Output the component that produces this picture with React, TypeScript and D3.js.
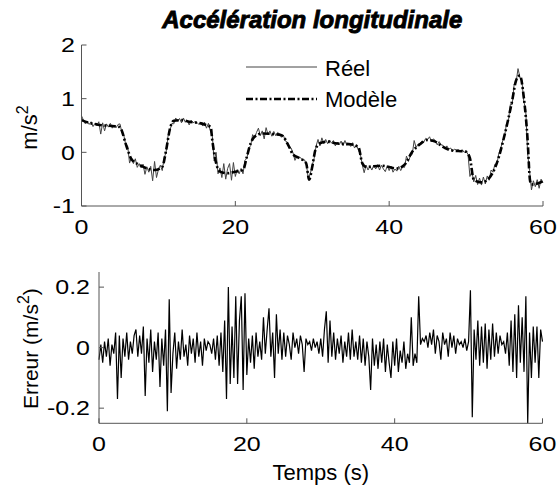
import React from 'react';
import * as d3 from 'd3';

// ---------- data ----------
const sampleStep = 0.25; // s
const xTicks = [0, 20, 40, 60];
const topYTicks = [-1, 0, 1, 2];
const botYTicks = [-0.2, 0, 0.2];

const modelTimes = [0, 1, 2, 3, 4, 5, 5.3, 5.7, 6, 6.5, 7.5, 8.5, 9.5, 10.5, 11, 11.5, 12, 13, 14, 16, 16.8, 17, 17.5, 18, 19, 20, 21, 21.5, 22, 22.5, 23.5, 25, 26, 27, 27.5, 28.5, 29.2, 29.6, 30, 30.4, 31, 32, 33, 35, 36, 36.5, 37, 39, 41, 42, 43, 44, 45, 46, 47, 48, 50, 50.5, 51, 52, 53, 54, 55, 56, 56.5, 57, 57.5, 58, 58.3, 58.5, 59.5, 60];
const modelValues = [0.6, 0.55, 0.52, 0.5, 0.49, 0.47, 0.38, 0.18, 0.05, -0.13, -0.23, -0.3, -0.33, -0.27, 0.04, 0.44, 0.59, 0.6, 0.57, 0.52, 0.47, 0.23, -0.2, -0.36, -0.39, -0.36, -0.33, -0.08, 0.17, 0.29, 0.35, 0.34, 0.32, 0.1, -0.04, -0.12, -0.2, -0.51, -0.27, 0.04, 0.17, 0.2, 0.17, 0.15, 0.1, -0.2, -0.27, -0.25, -0.3, -0.23, 0.01, 0.15, 0.23, 0.2, 0.1, 0.04, 0.01, -0.11, -0.51, -0.56, -0.48, -0.2, 0.32, 0.97, 1.34, 1.43, 1.03, 0.23, -0.51, -0.6, -0.57, -0.54];

const reelValues = [
  0.68, 0.60, 0.53, 0.58, 0.52, 0.57, 0.48, 0.54, 0.50, 0.57, 0.34, 0.55, 0.40, 0.53, 0.47, 0.54, 0.45, 0.51, 0.46, 0.52,
  0.53, 0.37, 0.32, 0.14, 0.12, -0.20, -0.10, -0.21, -0.12, -0.28, -0.21, -0.29, -0.22, -0.41, -0.27, -0.37, -0.26, -0.53, -0.17, -0.47,
  -0.32, -0.24, -0.34, -0.10, 0.00, 0.30, 0.41, 0.54, 0.53, 0.64, 0.58, 0.63, 0.55, 0.64, 0.56, 0.60, 0.51, 0.60, 0.55, 0.57,
  0.56, 0.52, 0.56, 0.49, 0.56, 0.45, 0.54, 0.40, 0.32, -0.16, 0.00, -0.40, -0.29, -0.47, -0.21, -0.50, -0.30, -0.21, -0.52, -0.19,
  -0.45, -0.32, -0.40, -0.30, -0.40, -0.15, -0.11, 0.07, 0.13, 0.33, 0.27, 0.37, 0.45, 0.31, 0.40, 0.25, 0.46, 0.33, 0.40, 0.30,
  0.39, 0.31, 0.37, 0.34, 0.28, 0.32, 0.21, 0.19, 0.08, 0.08, -0.01, -0.15, -0.07, -0.10, -0.10, -0.15, -0.14, -0.24, -0.50, -0.40,
  -0.24, -0.11, 0.12, 0.24, 0.12, 0.27, 0.16, 0.24, 0.16, 0.23, 0.17, 0.22, 0.12, 0.19, 0.14, 0.21, 0.12, 0.22, 0.13, 0.17,
  0.11, 0.18, 0.08, 0.14, 0.04, -0.03, -0.23, -0.38, -0.24, -0.33, -0.26, -0.33, -0.24, -0.31, -0.23, -0.33, -0.24, -0.31, -0.36, -0.25,
  -0.34, -0.26, -0.37, -0.31, -0.35, -0.26, -0.34, -0.27, -0.28, -0.07, -0.17, -0.07, -0.04, 0.22, 0.09, 0.15, 0.17, 0.21, 0.19, 0.26,
  0.24, 0.29, 0.20, 0.25, 0.22, 0.14, 0.20, 0.14, 0.13, 0.06, 0.12, 0.06, 0.08, 0.02, 0.06, 0.04, 0.05, 0.02, 0.05, 0.00,
  0.03, -0.04, -0.45, -0.35, -0.55, -0.43, -0.60, -0.48, -0.61, -0.46, -0.59, -0.44, -0.52, -0.33, -0.37, -0.22, -0.22, -0.03, 0.07, 0.21,
  0.30, 0.53, 0.58, 0.89, 0.89, 1.27, 1.30, 1.56, 1.40, 1.35, 0.95, 0.80, -0.02, -0.34, -0.70, -0.53, -0.64, -0.51, -0.67, -0.50,
  -0.56,
];

const errorValues = [
  -0.04, 0.01, -0.05, 0.02, -0.03, 0.03, -0.06, 0.01, -0.02, 0.05, -0.17, 0.04, -0.10, 0.03, -0.03, 0.05, -0.04, 0.02, -0.02, 0.04,
  0.06, -0.03, 0.04, -0.02, 0.07, -0.16, 0.03, -0.05, 0.06, -0.08, 0.02, -0.04, 0.05, -0.13, 0.03, -0.06, 0.06, -0.21, 0.16, -0.15,
  -0.02, 0.05, -0.07, 0.02, -0.04, 0.06, -0.03, 0.01, -0.06, 0.04, -0.02, 0.03, -0.05, 0.05, -0.03, 0.02, -0.06, 0.03, -0.01, 0.02,
  0.01, -0.02, 0.03, -0.04, 0.04, -0.06, 0.05, -0.08, 0.09, -0.17, 0.20, -0.12, 0.07, -0.10, 0.17, -0.12, 0.09, 0.17, -0.14, 0.18,
  -0.09, 0.03, -0.05, 0.04, -0.07, 0.05, -0.03, 0.02, -0.04, 0.10, -0.02, 0.06, 0.13, -0.03, 0.05, -0.10, 0.11, -0.02, 0.06, -0.04,
  0.05, -0.03, 0.04, 0.01, -0.04, 0.05, 0.00, 0.03, -0.02, 0.04, 0.01, -0.08, 0.03, 0.01, 0.02, -0.01, 0.03, 0.00, 0.02, -0.02,
  0.03, -0.03, 0.06, 0.12, -0.05, 0.09, -0.03, 0.05, -0.04, 0.03, -0.02, 0.04, -0.05, 0.02, -0.03, 0.05, -0.04, 0.06, -0.03, 0.02,
  -0.04, 0.04, -0.05, 0.03, -0.06, 0.02, -0.03, -0.14, 0.03, -0.06, 0.01, -0.07, 0.02, -0.05, 0.03, -0.08, 0.01, -0.05, -0.10, 0.02,
  -0.06, 0.03, -0.08, -0.01, -0.05, 0.02, -0.07, -0.02, -0.05, 0.10, -0.06, -0.02, -0.05, 0.17, 0.01, 0.03, 0.02, 0.04, 0.00, 0.05,
  0.01, 0.06, -0.02, 0.04, 0.02, -0.04, 0.05, 0.01, 0.03, -0.03, 0.05, 0.00, 0.04, -0.02, 0.03, 0.01, 0.02, 0.00, 0.03, -0.01,
  0.02, 0.19, -0.23, 0.06, -0.04, 0.09, -0.06, 0.07, -0.05, 0.08, -0.07, 0.06, -0.04, 0.08, -0.03, 0.05, -0.02, 0.04, 0.01, 0.02,
  -0.02, 0.05, -0.06, 0.09, -0.08, 0.11, -0.10, 0.14, -0.05, 0.10, -0.08, 0.17, -0.25, 0.05, -0.10, 0.07, -0.05, 0.07, -0.10, 0.06,
  0.02,
];

const FONT = "'Liberation Sans', Arial, Helvetica, sans-serif";
const AXIS = '#555';

export default function App() {
  const W = 557;
  const H = 488;

  const xTop = d3.scaleLinear().domain([0, 60]).range([81.5, 543]);
  const yTop = d3.scaleLinear().domain([-1, 2]).range([206, 45]);
  const xBot = d3.scaleLinear().domain([0, 60]).range([99, 542.5]);
  const yBot = d3.scaleLinear().domain([-0.25, 0.25]).range([423.3, 272]);

  const reelData = reelValues.map((v, i) => [i * sampleStep, v] as [number, number]);
  const errData = errorValues.map((v, i) => [i * sampleStep, v] as [number, number]);
  const modelData = modelTimes.map((t, i) => [t, modelValues[i]] as [number, number]);

  const lineTop = d3.line<[number, number]>().x(d => xTop(d[0])).y(d => yTop(d[1]));
  const lineModel = d3.line<[number, number]>().x(d => xTop(d[0])).y(d => yTop(d[1])).curve(d3.curveMonotoneX);
  const lineBot = d3.line<[number, number]>().x(d => xBot(Math.min(60, d[0]))).y(d => yBot(Math.max(-0.25, Math.min(0.25, d[1]))));

  const fmt = (v: number) => (Math.abs(v) < 1e-9 ? '0' : String(v));
  const tickFs = 20;
  const sx = 1.25;

  return (
    <svg width={W} height={H} style={{ position: 'absolute', left: 0, top: 0, background: '#fff' }} fontFamily={FONT}>
      {/* Title */}
      <text x={(xTop.range()[0] + xTop.range()[1]) / 2} y={28} textAnchor="middle" fontSize={24} fontWeight="bold" fontStyle="italic" stroke="#000" strokeWidth={0.9}>
        Accélération longitudinale
      </text>

      {/* ---- Top plot ---- */}
      <path d={lineTop(reelData) || ''} fill="none" stroke="#444" strokeWidth={1} />
      <path d={lineModel(modelData) || ''} fill="none" stroke="#000" strokeWidth={2.6} strokeDasharray="7,2.5,2,2.5" />
      {/* axes */}
      <line x1={xTop.range()[0]} x2={xTop.range()[0]} y1={yTop.range()[0]} y2={yTop.range()[1]} stroke={AXIS} strokeWidth={1} />
      <line x1={xTop.range()[0]} x2={xTop.range()[1]} y1={yTop.range()[0]} y2={yTop.range()[0]} stroke={AXIS} strokeWidth={1} />
      {xTicks.map(t => (
        <g key={'xt' + t}>
          <line x1={xTop(t)} x2={xTop(t)} y1={yTop.range()[0]} y2={yTop.range()[0] - 5} stroke={AXIS} />
          <text transform={`translate(${xTop(t)},${yTop.range()[0] + 28}) scale(${sx},1)`} textAnchor="middle" fontSize={tickFs}>{fmt(t)}</text>
        </g>
      ))}
      {topYTicks.map(t => (
        <g key={'yt' + t}>
          <line x1={xTop.range()[0]} x2={xTop.range()[0] + 5} y1={yTop(t)} y2={yTop(t)} stroke={AXIS} />
          <text transform={`translate(75,${yTop(t)}) scale(${sx},1)`} dy="0.36em" textAnchor="end" fontSize={tickFs}>{fmt(t)}</text>
        </g>
      ))}
      <text transform={`translate(37,${(yTop.range()[0] + yTop.range()[1]) / 2 + 2}) rotate(-90)`} textAnchor="middle" fontSize={22}>
        m/s<tspan fontSize={16} dy={-9}>2</tspan>
      </text>
      {/* legend */}
      <line x1={246} x2={317} y1={67} y2={67} stroke="#444" strokeWidth={1} />
      <text x={325} y={68} dy="0.36em" fontSize={22}>Réel</text>
      <line x1={246} x2={317} y1={99} y2={99} stroke="#000" strokeWidth={2.6} strokeDasharray="7,2.5,2,2.5" />
      <text x={325} y={99.5} dy="0.36em" fontSize={22}>Modèle</text>

      {/* ---- Bottom plot ---- */}
      <path d={lineBot(errData) || ''} fill="none" stroke="#000" strokeWidth={1.2} />
      <line x1={xBot.range()[0]} x2={xBot.range()[0]} y1={yBot.range()[0]} y2={yBot.range()[1]} stroke={AXIS} strokeWidth={1} />
      <line x1={xBot.range()[0]} x2={xBot.range()[1]} y1={yBot.range()[0]} y2={yBot.range()[0]} stroke={AXIS} strokeWidth={1} />
      {xTicks.map(t => (
        <g key={'bxt' + t}>
          <line x1={xBot(t)} x2={xBot(t)} y1={yBot.range()[0]} y2={yBot.range()[0] - 5} stroke={AXIS} />
          <text transform={`translate(${xBot(t)},${yBot.range()[0] + 28}) scale(${sx},1)`} textAnchor="middle" fontSize={tickFs}>{fmt(t)}</text>
        </g>
      ))}
      {botYTicks.map(t => (
        <g key={'byt' + t}>
          <line x1={xBot.range()[0]} x2={xBot.range()[0] + 5} y1={yBot(t)} y2={yBot(t)} stroke={AXIS} />
          <text transform={`translate(90,${yBot(t)}) scale(${sx},1)`} dy="0.36em" textAnchor="end" fontSize={tickFs}>{fmt(t)}</text>
        </g>
      ))}
      <text x={(xBot.range()[0] + xBot.range()[1]) / 2} y={480} textAnchor="middle" fontSize={22}>Temps (s)</text>
      <text transform={`translate(38,${(yBot.range()[0] + yBot.range()[1]) / 2 + 1}) rotate(-90)`} textAnchor="middle" fontSize={21}>
        Erreur (m/s<tspan fontSize={16} dy={-9}>2</tspan><tspan dy={9}>)</tspan>
      </text>
    </svg>
  );
}
